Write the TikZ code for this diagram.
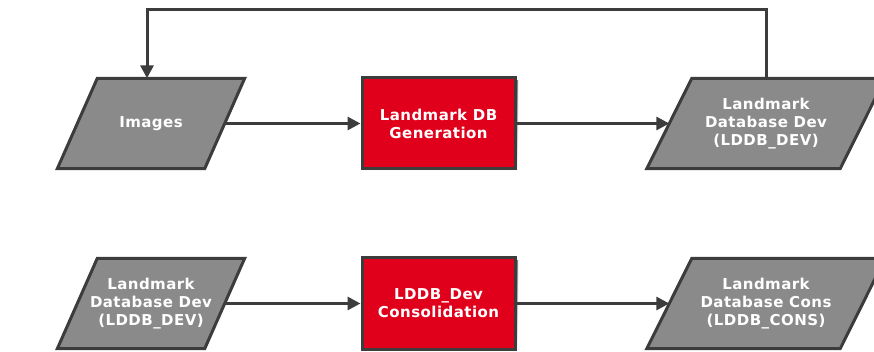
\documentclass[tikz,border=0pt]{standalone}
\usepackage{fontspec}
\setmainfont[LetterSpace=3]{DejaVu Sans}
\usetikzlibrary{arrows.meta,backgrounds}
\definecolor{edge}{HTML}{3C3C3C}
\definecolor{iofill}{HTML}{8A8A8A}
\definecolor{procred}{HTML}{E0001B}
\definecolor{shade}{HTML}{D0D0D0}

% parallelogram drawn behind a text node: #1 node name, #2 half of the slant
\newcommand\ioshape[2]{%
  \begin{scope}[on background layer]
    \fill[shade, shift={(3,3)}]
      ([xshift=#2pt]#1.north west) -- ([xshift=#2pt]#1.north east) --
      ([xshift=-#2pt]#1.south east) -- ([xshift=-#2pt]#1.south west) -- cycle;
    \filldraw[iofill, draw=edge, line width=3pt, line join=miter]
      ([xshift=#2pt]#1.north west) -- ([xshift=#2pt]#1.north east) --
      ([xshift=-#2pt]#1.south east) -- ([xshift=-#2pt]#1.south west) -- cycle;
  \end{scope}}

\tikzset{
  lbl/.style={text=white, align=center, inner sep=0pt, minimum height=90pt,
    font=\bfseries\fontsize{15}{18}\selectfont},
  proc/.style={lbl, fill=procred, draw=edge, line width=3pt,
    minimum width=153pt, minimum height=91pt},
  conn/.style={draw=edge, line width=3pt, -{Triangle[length=13pt,width=13pt]}},
}

\begin{document}
\begin{tikzpicture}[x=1pt, y=-1pt]
  \useasboundingbox (0,0) rectangle (874,352);

  % upper row
  \fill[shade] (365,81) rectangle (518,172);
  \node[lbl, minimum width=147pt] (img) at (151,123.5) {Images};
  \ioshape{img}{20}
  \node[proc] (gen) at (438.5,123.5) {Landmark DB\\Generation};
  \node[lbl, minimum width=193pt] (dev) at (766,123.5) {Landmark\\Database Dev\\(LDDB\_DEV)};
  \ioshape{dev}{22.5}

  % lower row
  \fill[shade] (365,261) rectangle (518,352);
  \node[lbl, minimum width=147pt] (devin) at (151,303.5) {Landmark\\Database Dev\\(LDDB\_DEV)};
  \ioshape{devin}{20}
  \node[proc] (cons) at (438.5,303.5) {LDDB\_Dev\\Consolidation};
  \node[lbl, minimum width=193pt] (consout) at (766,303.5) {Landmark\\Database Cons\\(LDDB\_CONS)};
  \ioshape{consout}{22.5}

  % connectors
  \coordinate (loop) at (147,10);
  \draw[conn] (img.east) -- (gen.west);
  \draw[conn] (gen.east) -- (dev.west);
  \draw[conn] (dev.north) |- (loop) -- (loop |- img.north);
  \draw[conn] (devin.east) -- (cons.west);
  \draw[conn] (cons.east) -- (consout.west);
\end{tikzpicture}
\end{document}
